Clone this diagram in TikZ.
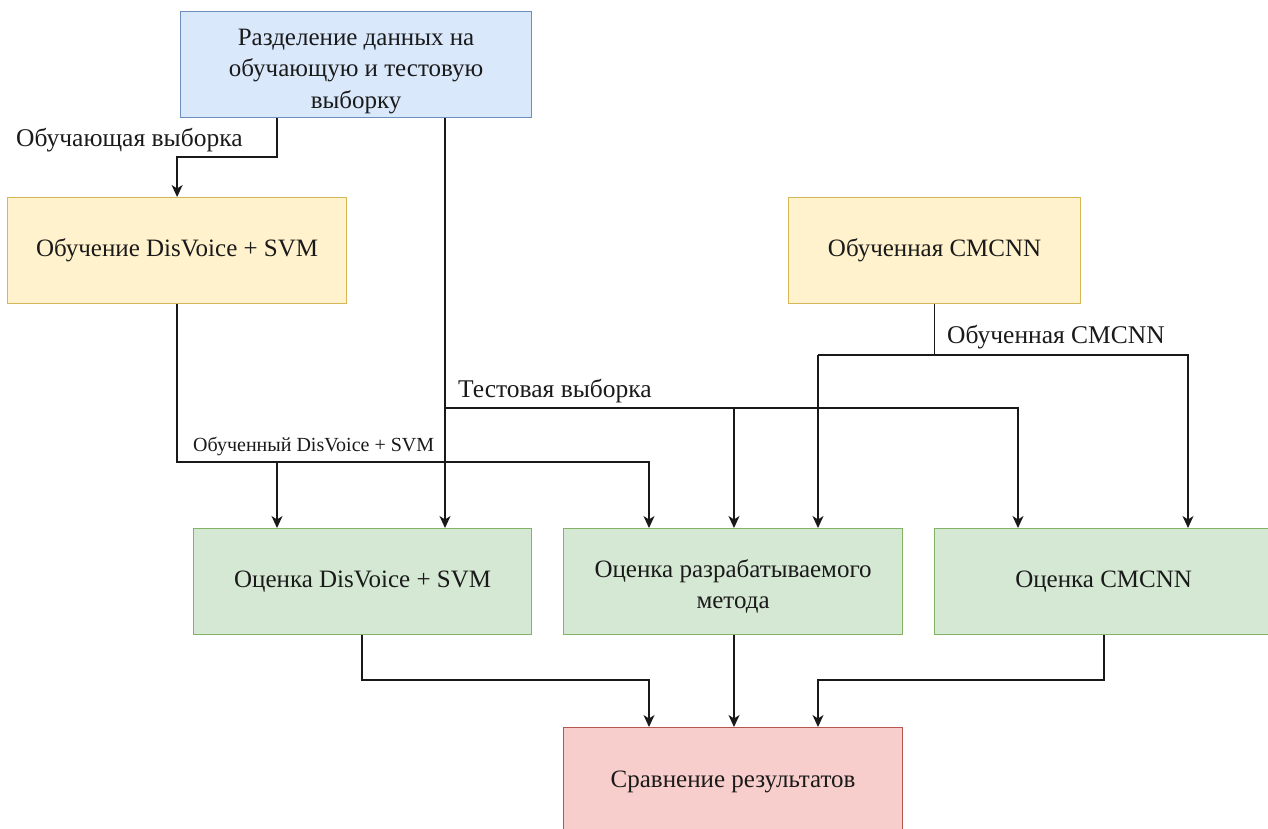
\documentclass[tikz,border=0pt]{standalone}
\usepackage{fontspec}
\setmainfont{Liberation Serif}
\usetikzlibrary{arrows.meta}
\definecolor{bluefill}{HTML}{DAE8FC}\definecolor{bluedraw}{HTML}{6C8EBF}
\definecolor{yelfill}{HTML}{FFF2CC}\definecolor{yeldraw}{HTML}{D6B656}
\definecolor{grnfill}{HTML}{D5E8D4}\definecolor{grndraw}{HTML}{82B366}
\definecolor{redfill}{HTML}{F8CECC}\definecolor{reddraw}{HTML}{B85450}
\definecolor{txt}{HTML}{1A1A1A}
\tikzset{
  box/.style={rectangle, anchor=north west, inner sep=0pt, line width=1.2pt, align=center,
    font=\fontsize{25}{31.5}\selectfont, text=txt},
  bluebox/.style={box, fill=bluefill, draw=bluedraw},
  yelbox/.style={box, fill=yelfill, draw=yeldraw},
  grnbox/.style={box, fill=grnfill, draw=grndraw},
  redbox/.style={box, fill=redfill, draw=reddraw},
  ln/.style={line width=1.3pt, draw=black!90},
  arr/.style={ln, -{Stealth[length=12pt,width=11pt,inset=3.5pt]}},
  lbl/.style={anchor=west, inner sep=0pt, text=txt, font=\fontsize{25.5}{29}\selectfont},
  slbl/.style={anchor=west, inner sep=0pt, text=txt, font=\fontsize{20}{24}\selectfont},
}
\begin{document}
\begin{tikzpicture}[x=1pt,y=-1pt]
\useasboundingbox (0,0) rectangle (1268,829);
\clip (0,0) rectangle (1268,829);
\fill[white] (0,0) rectangle (1268,829);
% nodes
\node[bluebox, minimum width=351pt, minimum height=106pt] (A) at (180,11) {\rule{0pt}{30pt}Разделение данных на\\обучающую и тестовую\\выборку};
\node[yelbox, minimum width=339pt, minimum height=106pt] (B) at (7,197) {Обучение DisVoice + SVM};
\node[yelbox, minimum width=292pt, minimum height=106pt] (C) at (788,197) {Обученная CMCNN};
\node[grnbox, minimum width=338pt, minimum height=106pt] (D) at (193,528) {Оценка DisVoice + SVM};
\node[grnbox, minimum width=339pt, minimum height=106pt] (E) at (563,528) {\rule{0pt}{28pt}Оценка разрабатываемого\\метода};
\node[grnbox, minimum width=338pt, minimum height=106pt] (F) at (934,528) {Оценка CMCNN};
\node[redbox, minimum width=339pt, minimum height=108pt] (G) at (563,727) {Сравнение результатов};
% training sample
\draw[arr] (A.south -| 277,0) |- (B.north |- 0,157) -- (B.north);
\node[lbl] (l1) at (16,140) {Обучающая выборка};
% test sample
\coordinate (t0) at (445,408);
\coordinate (t1) at (734,408);
\coordinate (t2) at (1018,408);
\draw[arr] (A.south -| t0) -- (D.north -| t0);
\draw[arr] (t0) -- (t2) -- (F.north -| t2);
\draw[arr] (t1) -- (E.north -| t1);
\node[lbl] (l2) at (458,391) {Тестовая выборка};
% trained DisVoice
\coordinate (d0) at (277,462);
\coordinate (d1) at (649,462);
\draw[arr] (B.south) |- (d1) -- (E.north -| d1);
\draw[arr] (d0) -- (D.north -| d0);
\node[slbl] (l3) at (193,446) {Обученный DisVoice + SVM};
% trained CMCNN
\coordinate (c1) at (818,355);
\coordinate (c2) at (1188,355);
\draw[ln] (C.south) -- (C.south |- c1);
\draw[arr] (c1) -- (E.north -| c1);
\draw[arr] (c1) -- (c2) -- (F.north -| c2);
\node[lbl] (l4) at (947,337) {Обученная CMCNN};
% results
\coordinate (r1) at (649,680);
\coordinate (r2) at (818,680);
\draw[arr] (D.south -| 362,0) |- (r1) -- (G.north -| r1);
\draw[arr] (E.south -| 734,0) -- (G.north -| 734,0);
\draw[arr] (F.south -| 1104,0) |- (r2) -- (G.north -| r2);
\end{tikzpicture}
\end{document}
